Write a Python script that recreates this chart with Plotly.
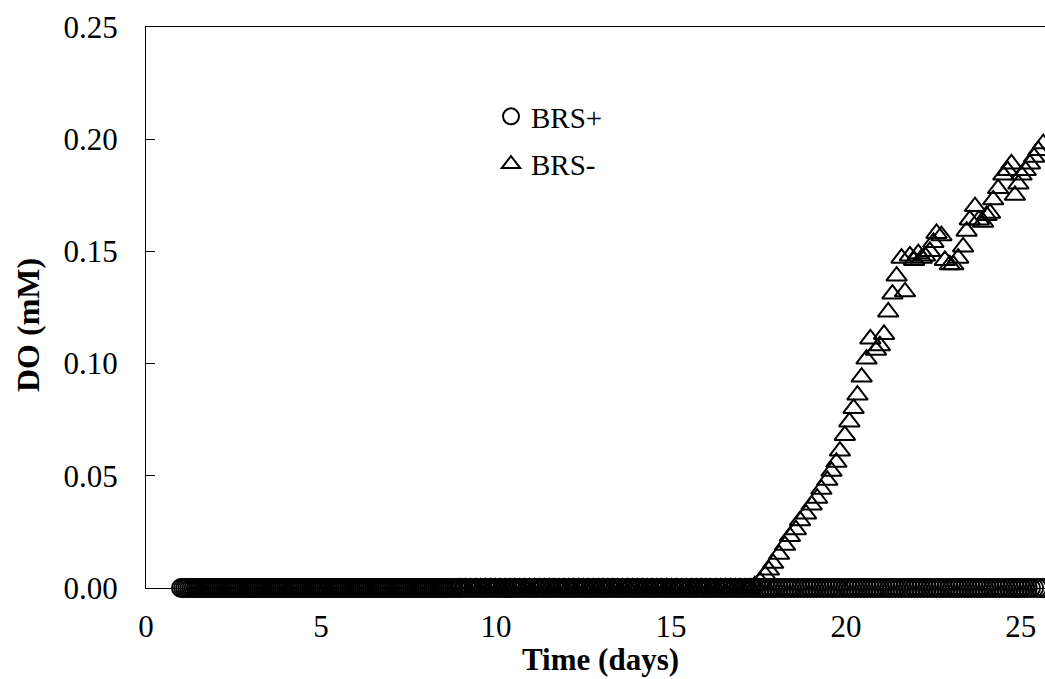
import numpy as np
import plotly.graph_objects as go

# ---- data -------------------------------------------------------------
# BRS+ : dissolved oxygen stays at zero over the whole run
brs_plus_t = np.round(np.concatenate([np.arange(1.0, 9.0, 0.06),
                                      np.arange(9.0, 25.66, 0.09)]), 3)
brs_plus_do = np.zeros_like(brs_plus_t)

# BRS- : zero until ~day 17.3, then DO builds up
brs_minus_zero_t = np.round(np.arange(9.0, 17.3, 0.14), 3)
brs_minus_zero_do = np.zeros_like(brs_minus_zero_t)

brs_minus_rise_t = [17.40, 17.55, 17.69, 17.80, 17.92, 18.09, 18.26, 18.40, 18.57, 18.69,
                    18.86, 19.02, 19.18, 19.30, 19.47, 19.59, 19.73, 19.83, 19.97, 20.10,
                    20.22, 20.33, 20.45, 20.59, 20.70, 20.86, 20.97, 21.09, 21.21, 21.33,
                    21.45, 21.59, 21.69, 21.83, 21.95, 22.07, 22.17, 22.26, 22.40, 22.50,
                    22.59, 22.73, 22.83, 22.97, 23.07, 23.21, 23.35, 23.45, 23.54, 23.69,
                    23.80, 23.92, 24.02, 24.12, 24.21, 24.35, 24.50, 24.62, 24.73, 24.83,
                    24.93, 25.02, 25.14, 25.26, 25.38, 25.50, 25.64]
brs_minus_rise_do = [0.001, 0.003, 0.006, 0.008, 0.011, 0.015, 0.019, 0.023, 0.026, 0.030,
                     0.033, 0.037, 0.040, 0.044, 0.048, 0.052, 0.056, 0.061, 0.068, 0.074,
                     0.080, 0.086, 0.094, 0.102, 0.111, 0.106, 0.108, 0.113, 0.123, 0.131,
                     0.139, 0.147, 0.132, 0.148, 0.146, 0.149, 0.147, 0.148, 0.150, 0.154,
                     0.158, 0.157, 0.146, 0.144, 0.144, 0.147, 0.152, 0.159, 0.164, 0.170,
                     0.164, 0.163, 0.166, 0.167, 0.173, 0.178, 0.184, 0.186, 0.189, 0.175,
                     0.180, 0.184, 0.186, 0.189, 0.192, 0.195, 0.198]

brs_minus_t = list(brs_minus_zero_t) + brs_minus_rise_t
brs_minus_do = list(brs_minus_zero_do) + brs_minus_rise_do

x_ticks = [0, 5, 10, 15, 20, 25]
y_ticks = [0.00, 0.05, 0.10, 0.15, 0.20, 0.25]

FONT = "Liberation Serif, Times New Roman, serif"

# ---- figure -----------------------------------------------------------
fig = go.Figure()
fig.add_trace(go.Scatter(
    x=brs_plus_t, y=brs_plus_do, mode="markers", name="BRS+",
    legendgroup="a", cliponaxis=False,
    marker=dict(symbol="circle-open", size=18, color="black",
                line=dict(color="black", width=2)),
))
fig.add_trace(go.Scatter(
    x=brs_minus_t, y=brs_minus_do, mode="markers", name="BRS-",
    legendgroup="b", cliponaxis=False,
    marker=dict(symbol="triangle-up-open", size=18, color="black",
                line=dict(color="black", width=2)),
))

axis_common = dict(
    showgrid=False, zeroline=False, showline=True, linecolor="black",
    linewidth=1.3, ticks="inside", ticklen=9, tickwidth=1.3, tickcolor="black",
    tickfont=dict(family=FONT, size=31, color="black"),
)

fig.update_xaxes(range=[0, 25.69], tickvals=x_ticks, mirror=True,
                 ticklabelstandoff=11, **axis_common)
fig.update_yaxes(range=[0, 0.25], tickvals=y_ticks, tickformat=".2f",
                 ticklabelstandoff=21, **axis_common)

fig.add_annotation(text="<b>Time (days)</b>", xref="paper", yref="paper",
                   x=(600 - 146) / 899, y=(588 - 659) / 561, showarrow=False,
                   font=dict(family=FONT, size=31, color="black"),
                   xanchor="center", yanchor="middle")
fig.add_annotation(text="<b>DO (mM)</b>", xref="paper", yref="paper",
                   x=(28 - 146) / 899, y=(588 - 325) / 561, showarrow=False,
                   textangle=-90,
                   font=dict(family=FONT, size=32, color="black"),
                   xanchor="center", yanchor="middle")

fig.update_layout(
    width=1045, height=679,
    margin=dict(l=146, r=0, t=27, b=91),
    paper_bgcolor="white", plot_bgcolor="white",
    font=dict(family=FONT, size=29, color="black"),
    showlegend=True,
    legend=dict(x=(491 - 146) / 899, y=(588 - 91) / 561, xanchor="left", yanchor="top",
                bgcolor="rgba(0,0,0,0)", itemwidth=30, tracegroupgap=7,
                font=dict(family=FONT, size=29, color="black")),
)

fig.write_html("out.html")
